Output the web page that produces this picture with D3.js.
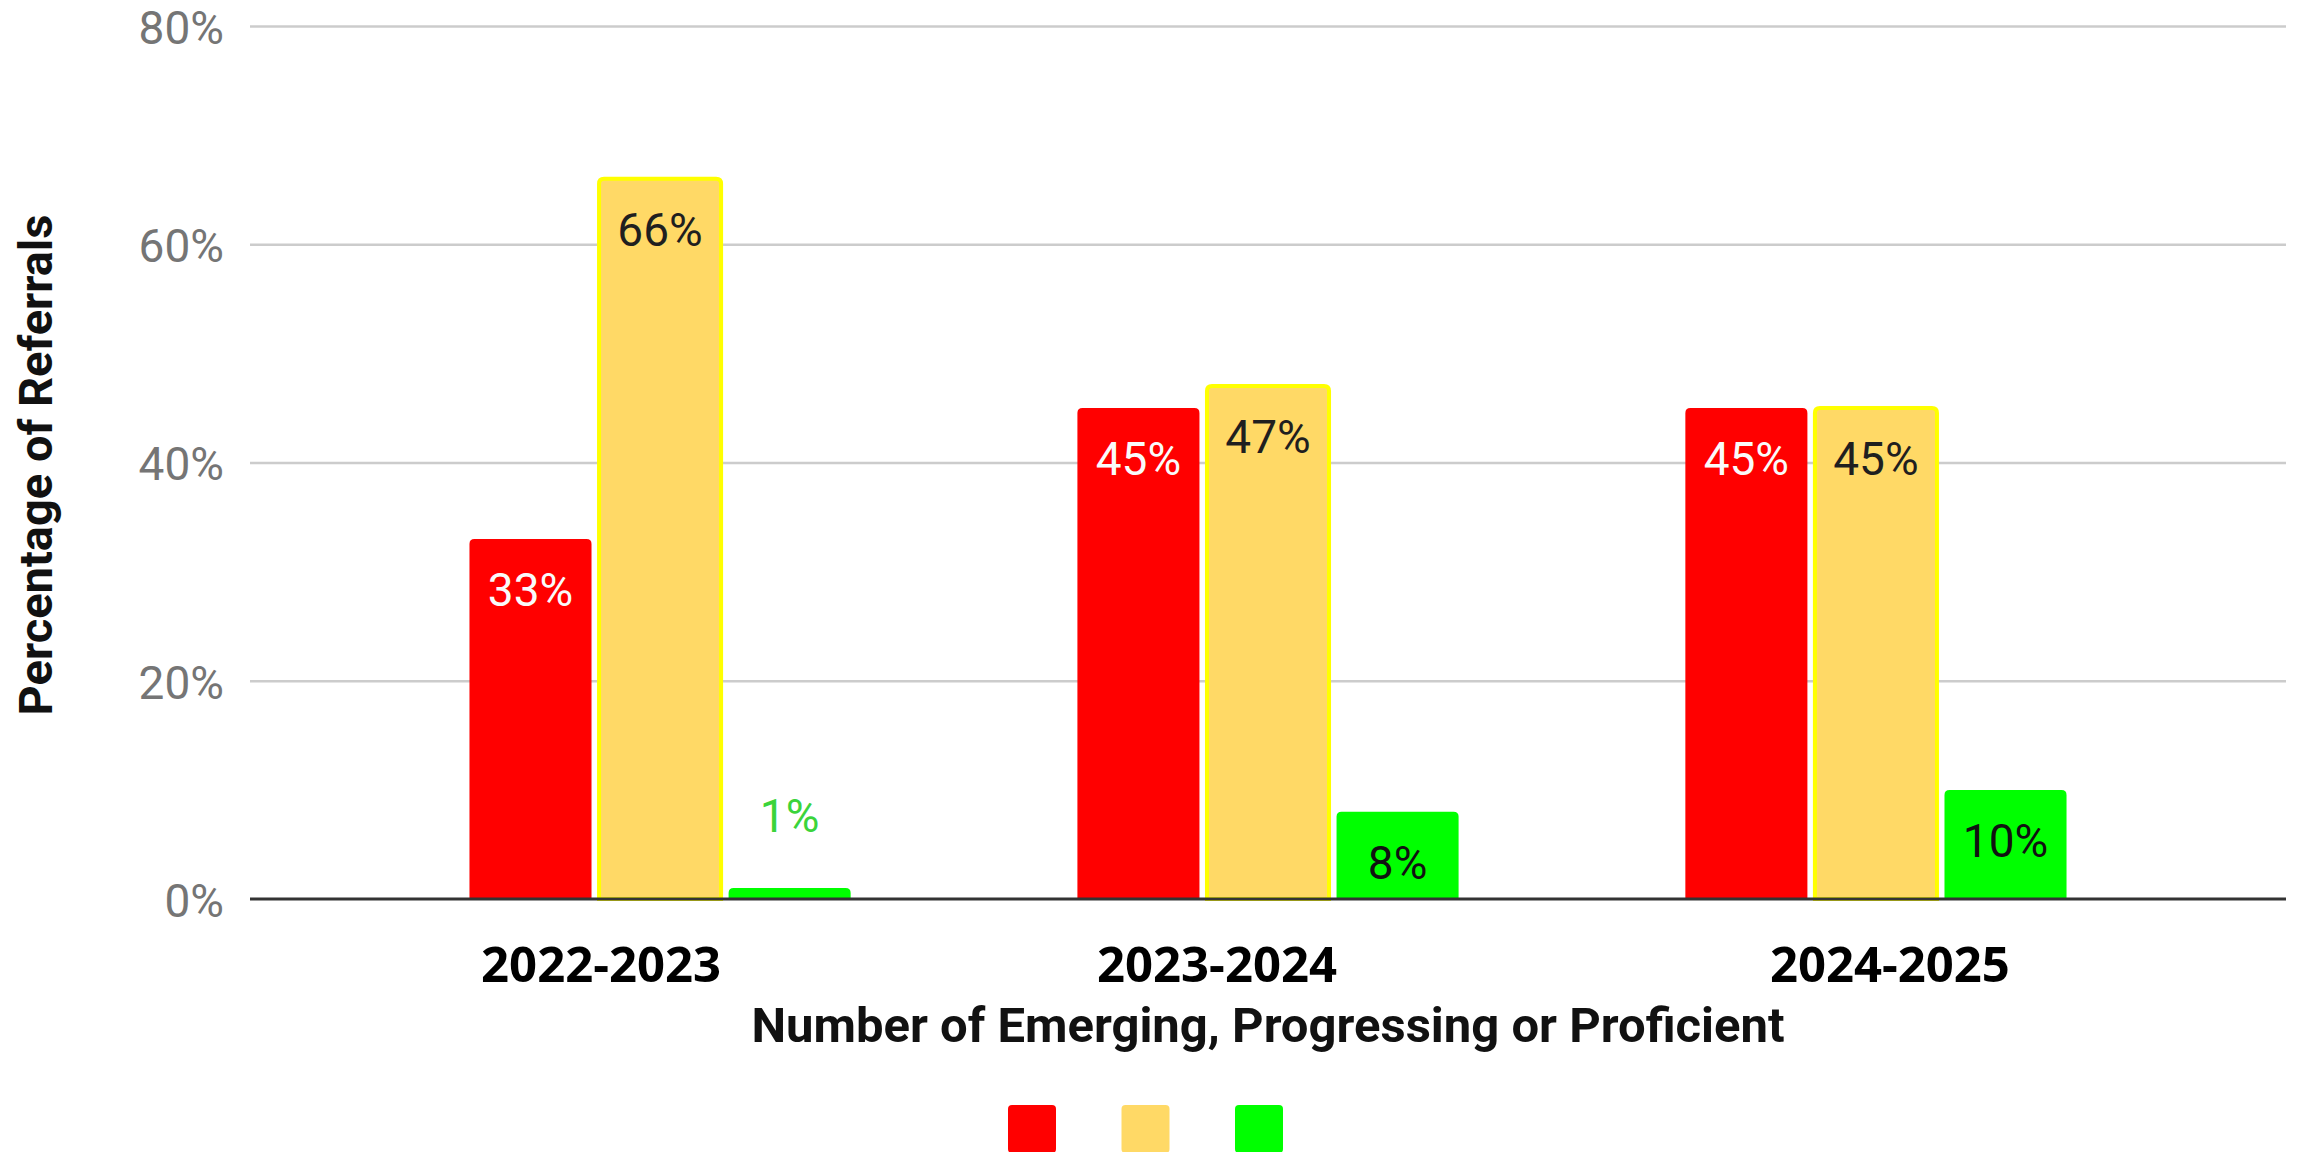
<!DOCTYPE html>
<html>
<head>
<meta charset="utf-8">
<script src="https://cdn.jsdelivr.net/npm/d3@7"></script>
<style>
  html, body { margin: 0; padding: 0; background: #ffffff; }
  svg { display: block; }
</style>
</head>
<body>
<svg id="chart" width="2298" height="1152"></svg>
<script>
// ---- data ----
const categories = ["2022-2023", "2023-2024", "2024-2025"];
const seriesNames = ["Emerging", "Progressing", "Proficient"];
const emerging = [33, 45, 45];
const progressing = [66, 47, 45];
const proficient = [1, 8, 10];
const yTicks = [0, 20, 40, 60, 80];
const yTitle = "Percentage of Referrals";
const xTitle = "Number of Emerging, Progressing or Proficient";

// ---- styles / layout (not data) ----
const seriesFill = ["#ff0000", "#ffd966", "#00ff00"];
const seriesStroke = [null, "#ffff00", null];
const insideLabelColor = ["#fafafa", "#1f1f1f", "#111111"];
const outsideLabelColor = ["#ff0000", "#c9a800", "#3bd43b"];
const catLabelNudge = [-59, -51, 14];

const svg = d3.select("#chart");
const plot = { left: 250, right: 2286, top: 26, bottom: 899 };

const series = [emerging, progressing, proficient];
const rows = categories.map((c, i) => ({ cat: c, vals: series.map(s => s[i]) }));

const x0 = d3.scaleBand().domain(categories)
  .range([plot.left, plot.right]).paddingInner(0.373).paddingOuter(0.361);
const x1 = d3.scaleBand().domain(d3.range(series.length))
  .range([0, x0.bandwidth()]).paddingInner(0.058).paddingOuter(0);
const y = d3.scaleLinear().domain([0, 80]).range([plot.bottom, plot.top]);

// gridlines
const grid = d3.axisLeft(y).tickValues(yTicks.filter(t => t !== 0))
  .tickSize(-(plot.right - plot.left)).tickFormat("");
svg.append("g").attr("transform", `translate(${plot.left},0)`).call(grid)
  .call(g => g.select(".domain").remove())
  .call(g => g.selectAll("line").attr("stroke", "#cccccc").attr("stroke-width", 2.5));

// y tick labels
const yAxis = d3.axisLeft(y).tickValues(yTicks).tickSize(0).tickPadding(0)
  .tickFormat(d => d + "%");
svg.append("g").attr("transform", `translate(224,0)`).call(yAxis)
  .call(g => g.select(".domain").remove())
  .call(g => g.selectAll("text")
    .attr("font-family", "Roboto, 'Noto Sans', sans-serif")
    .attr("font-size", 46).attr("fill", "#757575")
    .attr("dy", "0.38em"));

// bars with rounded top corners
function barPath(x, yTop, w, yBot, r) {
  r = Math.min(r, (yBot - yTop), w / 2);
  return `M${x},${yBot}V${yTop + r}Q${x},${yTop} ${x + r},${yTop}` +
         `H${x + w - r}Q${x + w},${yTop} ${x + w},${yTop + r}V${yBot}Z`;
}

const groups = svg.append("g").selectAll("g").data(rows).join("g")
  .attr("transform", d => `translate(${x0(d.cat)},0)`);

groups.selectAll("path").data(d => d.vals.map((v, i) => ({ v, i })))
  .join("path")
  .attr("d", d => barPath(x1(d.i), y(d.v), x1.bandwidth(), y(0), 5))
  .attr("fill", d => seriesFill[d.i])
  .attr("stroke", d => seriesStroke[d.i] || "none")
  .attr("stroke-width", d => seriesStroke[d.i] ? 4 : 0);

// value labels
groups.selectAll("text.val").data(d => d.vals.map((v, i) => ({ v, i })))
  .join("text").attr("class", "val")
  .attr("x", d => x1(d.i) + x1.bandwidth() / 2)
  .attr("y", d => {
    const h = y(0) - y(d.v);
    return h < 70 ? y(d.v) - 56 : y(d.v) + 67;
  })
  .attr("text-anchor", "middle")
  .attr("font-family", "Roboto, 'Noto Sans', sans-serif")
  .attr("font-size", 46)
  .attr("fill", d => (y(0) - y(d.v)) < 70 ? outsideLabelColor[d.i] : insideLabelColor[d.i])
  .text(d => d.v + "%");

// zero baseline
svg.append("line")
  .attr("x1", plot.left).attr("x2", plot.right)
  .attr("y1", y(0)).attr("y2", y(0))
  .attr("stroke", "#333333").attr("stroke-width", 3);

// category labels
svg.append("g").selectAll("text").data(categories).join("text")
  .attr("x", (d, i) => x0(d) + x0.bandwidth() / 2 + catLabelNudge[i])
  .attr("y", 982)
  .attr("text-anchor", "middle")
  .attr("font-family", "'Open Sans', sans-serif")
  .attr("font-weight", 700)
  .attr("font-size", 49)
  .attr("fill", "#000")
  .text(d => d);

// x title
svg.append("text")
  .attr("x", x0(categories[1]) + x0.bandwidth() / 2)
  .attr("y", 1042)
  .attr("text-anchor", "middle")
  .attr("font-family", "Roboto, sans-serif")
  .attr("font-weight", 700)
  .attr("font-size", 49)
  .attr("fill", "#111")
  .text(xTitle);

// y title
svg.append("text")
  .attr("transform", "translate(52,465) rotate(-90)")
  .attr("text-anchor", "middle")
  .attr("font-family", "Roboto, sans-serif")
  .attr("font-weight", 700)
  .attr("font-size", 47)
  .attr("fill", "#111")
  .text(yTitle);

// legend (swatches only)
const legendX = d3.scalePoint().domain(seriesNames).range([1008, 1235]);
svg.append("g").selectAll("rect").data(seriesNames).join("rect")
  .attr("x", d => legendX(d)).attr("y", 1105)
  .attr("width", 48).attr("height", 48)
  .attr("rx", 4)
  .attr("fill", (d, i) => seriesFill[i]);
</script>
</body>
</html>
